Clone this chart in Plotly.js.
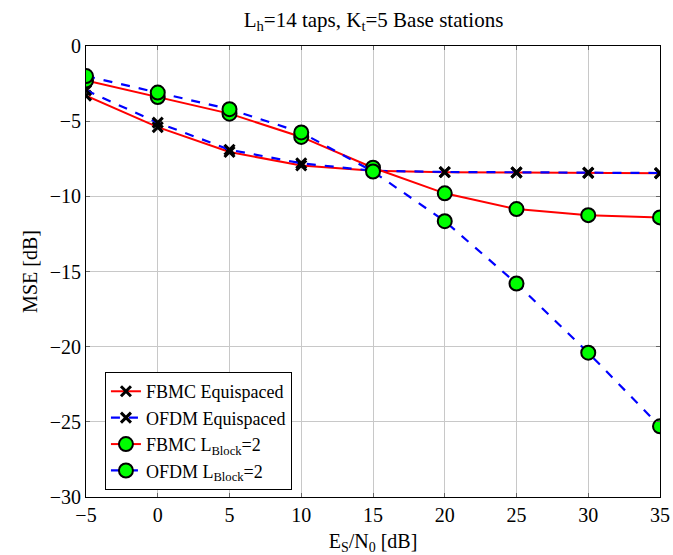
<!DOCTYPE html>
<html>
<head>
<meta charset="utf-8">
<script src="https://cdn.plot.ly/plotly-3.0.1.min.js"></script>
<style>html,body{margin:0;padding:0;background:#fff;}#chart{width:673px;height:555px;}</style>
</head>
<body>
<div id="chart"></div>
<script>
const snr = [-5, 0, 5, 10, 15, 20, 25, 30, 35];
const fbmcEqui = [-3.3, -5.4, -7.05, -7.95, -8.3, -8.4, -8.42, -8.45, -8.47];
const ofdmEqui = [-2.95, -5.1, -6.9, -7.8, -8.3, -8.38, -8.4, -8.42, -8.45];
const fbmcBlock = [-2.3, -3.4, -4.5, -6.05, -8.1, -9.8, -10.85, -11.25, -11.4];
const ofdmBlock = [-2.0, -3.1, -4.2, -5.75, -8.35, -11.65, -15.8, -20.4, -25.3];
const names = ["FBMC Equispaced", "OFDM Equispaced", "FBMC L<sub>Block</sub>=2", "OFDM L<sub>Block</sub>=2"];

const xMarker = {symbol: 'x-thin', size: 10, color: '#000', line: {color: '#000', width: 3}};
const oMarker = {symbol: 'circle', size: 14, color: '#00ff00', line: {color: '#000', width: 2}};

const traces = [
  {x: snr, y: fbmcEqui, name: names[0], mode: 'lines+markers', line: {color: '#ff0000', width: 2}, marker: xMarker},
  {x: snr, y: ofdmEqui, name: names[1], mode: 'lines+markers', line: {color: '#0000ff', width: 2.2, dash: 'dash'}, marker: xMarker},
  {x: snr, y: fbmcBlock, name: names[2], mode: 'lines+markers', line: {color: '#ff0000', width: 2}, marker: oMarker},
  {x: snr, y: ofdmBlock, name: names[3], mode: 'lines+markers', line: {color: '#0000ff', width: 2.2, dash: 'dash'}, marker: oMarker}
];

const fam = 'Liberation Serif';
const layout = {
  width: 673, height: 555,
  margin: {l: 86, r: 13, t: 46, b: 58},
  paper_bgcolor: '#fff', plot_bgcolor: '#fff',
  font: {family: fam, size: 18, color: '#000'},
  title: {text: 'L<sub>h</sub>=14 taps, K<sub>t</sub>=5 Base stations', x: 0.555, xanchor: 'center', y: 0.978, yanchor: 'top', font: {family: fam, size: 21, color: '#000'}},
  xaxis: {
    range: [-5, 35], tickvals: [-5, 0, 5, 10, 15, 20, 25, 30, 35],
    showgrid: true, gridcolor: '#c8c8c8', gridwidth: 1,
    showline: true, linecolor: '#000', linewidth: 1, mirror: 'ticks',
    ticks: 'inside', ticklen: 4, tickcolor: '#666', zeroline: false,
    tickfont: {family: fam, size: 20, color: '#000'},
    title: {text: 'E<sub>S</sub>/N<sub>0</sub> [dB]', standoff: 8, font: {family: fam, size: 20, color: '#000'}}
  },
  yaxis: {
    range: [-30, 0], tickvals: [-30, -25, -20, -15, -10, -5, 0],
    showgrid: true, gridcolor: '#c8c8c8', gridwidth: 1,
    showline: true, linecolor: '#000', linewidth: 1, mirror: 'ticks',
    ticks: 'inside', ticklen: 4, tickcolor: '#666', zeroline: false,
    tickfont: {family: fam, size: 20, color: '#000'},
    title: {text: 'MSE [dB]', standoff: 6, font: {family: fam, size: 20, color: '#000'}}
  },
  legend: {
    x: 0.033, y: 0.277, xanchor: 'left', yanchor: 'top',
    bgcolor: '#fff', bordercolor: '#000', borderwidth: 1,
    font: {family: fam, size: 18, color: '#000'}, tracegroupgap: 0, itemwidth: 30
  },
  showlegend: true
};

Plotly.newPlot('chart', traces, layout, {displayModeBar: false, staticPlot: true});
</script>
</body>
</html>
